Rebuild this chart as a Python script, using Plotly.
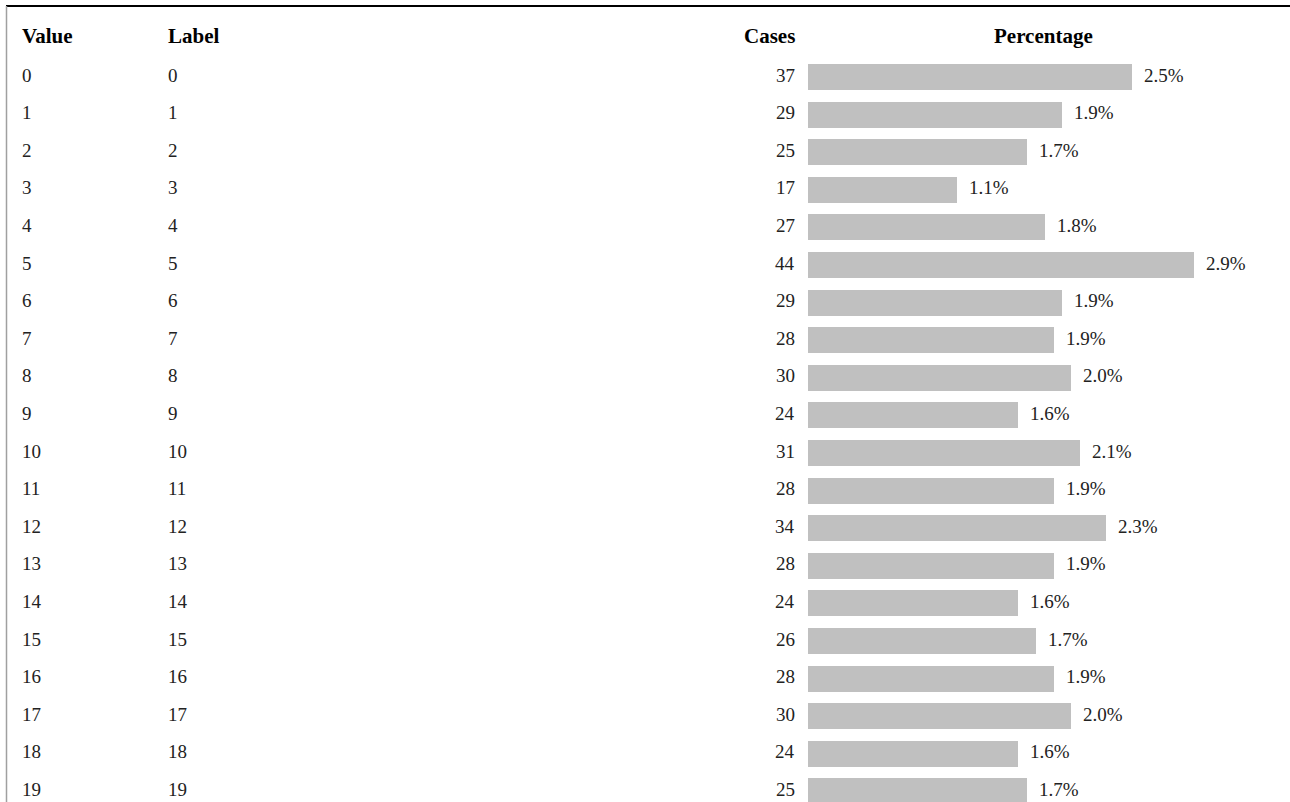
import plotly.graph_objects as go

# frequency table data
values = list(range(20))
labels = [str(v) for v in values]
cases = [37, 29, 25, 17, 27, 44, 29, 28, 30, 24, 31, 28, 34, 28, 24, 26, 28, 30, 24, 25]
percent = [2.5, 1.9, 1.7, 1.1, 1.8, 2.9, 1.9, 1.9, 2.0, 1.6, 2.1, 1.9, 2.3, 1.9, 1.6, 1.7, 1.9, 2.0, 1.6, 1.7]
headers = ["Value", "Label", "Cases", "Percentage"]

W, H = 1290, 802
BAR_X0 = 808          # pixel where the bars start
PX_PER_ROW = 37.6
ROW0_Y = 77
FONT = "Liberation Serif, Times New Roman, serif"

# column anchors in pixels (annotation boxes add ~2px padding)
COL_VALUE, COL_LABEL, COL_CASES, COL_PCT = 20, 166, 797, 1043

y_top = -ROW0_Y / PX_PER_ROW
y_bot = y_top + H / PX_PER_ROW

fig = go.Figure(go.Bar(
    x=cases,
    y=values,
    orientation="h",
    marker=dict(color="#C0C0C0", line=dict(width=0)),
    width=0.69,
    hoverinfo="skip",
))

ann = []
hdr_y = (36 - ROW0_Y) / PX_PER_ROW
hdr_font = dict(family=FONT, size=21, color="black")
for txt, xp, anchor in zip(headers, [COL_VALUE, COL_LABEL, COL_CASES, COL_PCT],
                           ["left", "left", "right", "center"]):
    ann.append(dict(text=f"<b>{txt}</b>", x=xp / W, xref="paper", y=hdr_y, yref="y",
                    xanchor=anchor, yanchor="middle", showarrow=False, font=hdr_font))

cell_font = dict(family=FONT, size=19, color="#222")
for v, lab, c, p in zip(values, labels, cases, percent):
    ann.append(dict(text=str(v), x=COL_VALUE / W, xref="paper", y=v - 0.05, yref="y",
                    xanchor="left", showarrow=False, font=cell_font))
    ann.append(dict(text=lab, x=COL_LABEL / W, xref="paper", y=v - 0.05, yref="y",
                    xanchor="left", showarrow=False, font=cell_font))
    ann.append(dict(text=str(c), x=COL_CASES / W, xref="paper", y=v - 0.05, yref="y",
                    xanchor="right", showarrow=False, font=cell_font))
    ann.append(dict(text=f"{p:.1f}%", x=c, xref="x", y=v - 0.05, yref="y",
                    xanchor="left", xshift=10, showarrow=False, font=cell_font))

fig.update_layout(
    width=W,
    height=H,
    margin=dict(l=0, r=0, t=0, b=0),
    paper_bgcolor="white",
    plot_bgcolor="white",
    showlegend=False,
    bargap=0,
    annotations=ann,
    shapes=[
        dict(type="line", xref="paper", yref="paper", x0=6 / W, x1=1, y0=1 - 6 / H, y1=1 - 6 / H,
             line=dict(color="black", width=2)),
        dict(type="line", xref="paper", yref="paper", x0=6.5 / W, x1=6.5 / W, y0=0, y1=1 - 6 / H,
             line=dict(color="#A0A0A0", width=1.5)),
    ],
)
fig.update_xaxes(domain=[BAR_X0 / W, 1], range=[0, (W - BAR_X0) / 8.77],
                 visible=False, fixedrange=True)
fig.update_yaxes(range=[y_bot, y_top], visible=False, fixedrange=True)

# drop the default body margin so the figure sits at the page corner
fig.write_html("out.html", config={"displayModeBar": False},
               post_script="document.body.style.margin='0px';document.body.style.overflow='hidden';")
